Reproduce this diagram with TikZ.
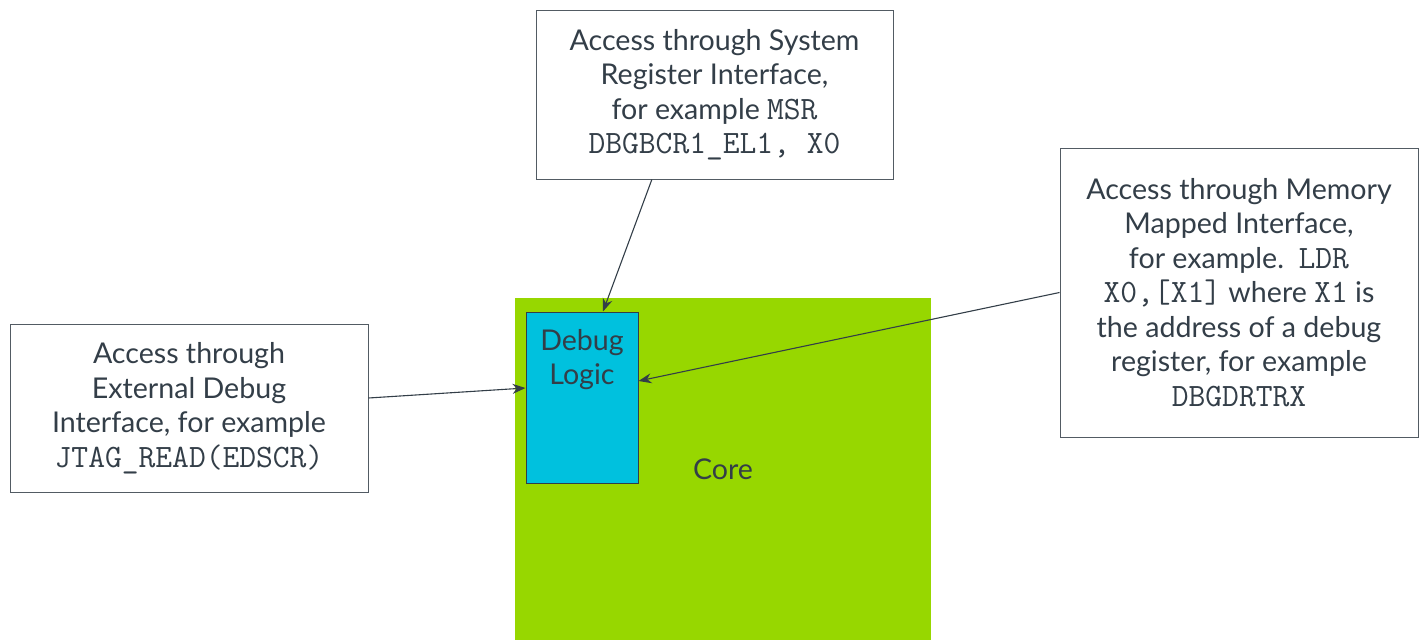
\documentclass[tikz,border=0pt]{standalone}
\usepackage{fontspec}
\setmainfont{Lato}
\setmonofont[Scale=1.14]{Latin Modern Mono}
\usetikzlibrary{arrows.meta,calc}
\definecolor{armgreen}{HTML}{97D700}
\definecolor{armcyan}{HTML}{00C1DE}
\definecolor{armdark}{HTML}{333E48}
\begin{document}
\begin{tikzpicture}[x=1pt, y=-1pt,
    every node/.style = {text=armdark, font=\fontsize{28.6}{34.5}\selectfont, inner sep=0pt},
    notebox/.style = {draw=armdark!85, line width=1pt, fill=white, align=center},
    link/.style = {draw=armdark, line width=1.1pt, -{Stealth[length=13pt, width=10pt]}}]
  \useasboundingbox (0,0) rectangle (1425,640);
  % core and debug logic
  \fill[armgreen] (515,298) rectangle (931,640);
  \node (core) at (723,469) {Core};
  \node[draw=armdark, line width=1pt, fill=armcyan, minimum width=112pt, minimum height=171pt] (debug) at (582,397.5) {};
  \node[align=center, anchor=north] (debugtxt) at (582,329) {Debug\\Logic};

  % the three access paths
  \node[notebox, minimum width=357pt, minimum height=169pt] (sysreg) at (714.5,94.5)
    {Access through System\\Register Interface,\\ for example \texttt{MSR}\\\texttt{DBGBCR1\_EL1, X0}};
  \node[notebox, minimum width=358pt, minimum height=289pt] (memmap) at (1239,292.5)
    {Access through Memory\\Mapped Interface,\\for example.\ \ \texttt{LDR}\\\texttt{X0,[X1]} where \texttt{X1} is\\the address of a debug\\register, for example\\\texttt{DBGDRTRX}};
  \node[notebox, minimum width=358pt, minimum height=168pt] (extdbg) at (189,408)
    {Access through\\External Debug\\Interface, for example\\\texttt{JTAG\_READ(EDSCR)}};

  \draw[link] ($(sysreg.south west)!0.325!(sysreg.south east)$) -- ([xshift=21pt]debug.north);
  \draw[link] ([yshift=10pt]extdbg.east) -- ([yshift=9.5pt]debug.west);
  \draw[link] (memmap.west) -- ([yshift=16.5pt]debug.east);
\end{tikzpicture}
\end{document}
